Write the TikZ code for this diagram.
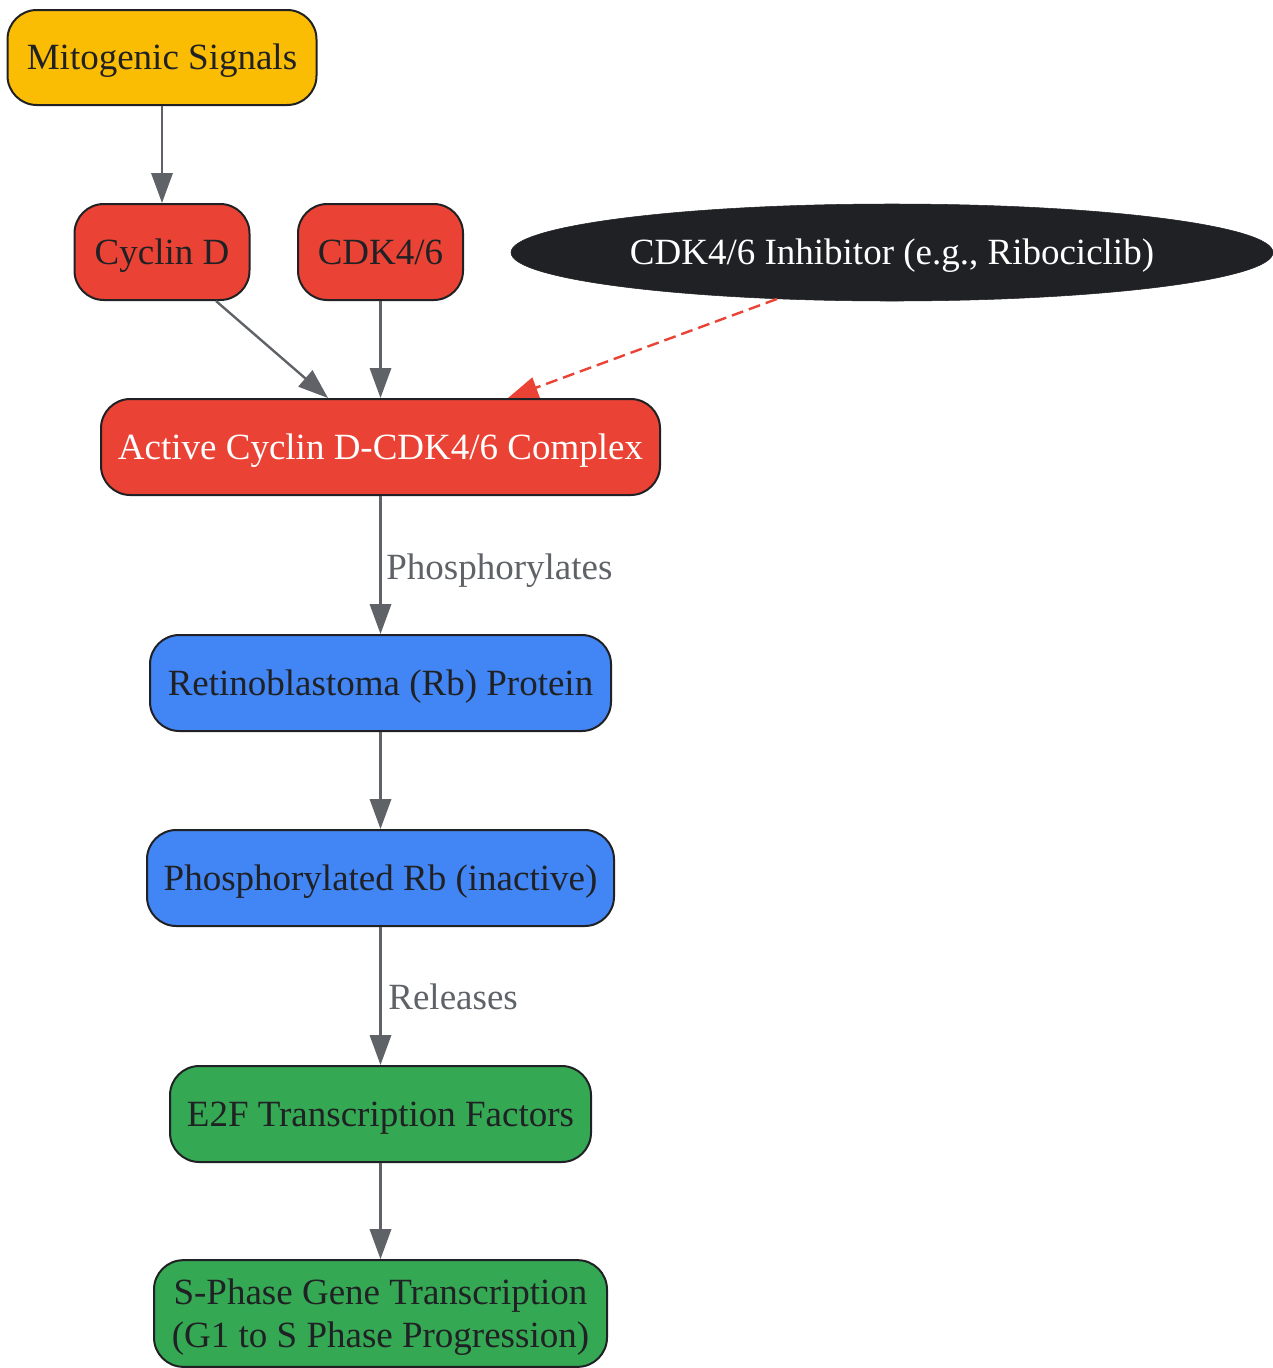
\documentclass[tikz,border=0pt]{standalone}
\usepackage{fontspec}
\setmainfont{Liberation Serif}
\usetikzlibrary{shapes.geometric,arrows.meta,calc}
\definecolor{gyellow}{HTML}{FBBC04}
\definecolor{gred}{HTML}{EA4335}
\definecolor{gblue}{HTML}{4285F4}
\definecolor{ggreen}{HTML}{34A853}
\definecolor{gdark}{HTML}{202124}
\definecolor{ggray}{HTML}{5F6368}
\tikzset{
  box/.style={draw=gdark, line width=1.5pt, rounded corners=22pt, inner sep=0pt,
    minimum height=72pt, align=center, text=gdark, text height=18.4pt, text depth=0pt,
    font=\fontsize{27.75}{32.25}\selectfont},
  conn/.style={draw=ggray, line width=1.8pt, -{Triangle[length=22.5pt,width=16pt]}},
  inhib/.style={draw=gred, line width=1.8pt, dash pattern=on 9pt off 4.5pt,
    -{Triangle[length=22.5pt,width=16pt]}},
  elabel/.style={text=ggray, anchor=west, inner sep=0pt,
    font=\fontsize{27.75}{32.25}\selectfont}
}
\begin{document}
\begin{tikzpicture}[x=0.75pt,y=-0.75pt]
\useasboundingbox (0,0) rectangle (1273,1368);
\node[box, fill=gyellow, minimum width=231.75pt, minimum height=71.25pt] (ms) at (162,57.5) {Mitogenic Signals};
\node[box, fill=gred, minimum width=131.25pt] (cd) at (162,252) {Cyclin D};
\node[box, fill=gred, minimum width=123.75pt] (cdk) at (380.5,252) {CDK4/6};
\node[ellipse, fill=gdark, draw=gdark, inner sep=0pt, minimum width=571.5pt, minimum height=72.75pt, text=white,
  text height=18.4pt, text depth=0pt,
  font=\fontsize{27.75}{32.25}\selectfont] (inh) at (892,252.5) {CDK4/6 Inhibitor (e.g., Ribociclib)};
\node[box, fill=gred, text=white, minimum width=419.25pt] (cx) at (380.5,447) {Active Cyclin D-CDK4/6 Complex};
\node[box, fill=gblue, minimum width=345.75pt] (rb) at (380.5,683) {Retinoblastoma (Rb) Protein};
\node[box, fill=gblue, minimum width=350.25pt] (prb) at (380.5,878) {Phosphorylated Rb (inactive)};
\node[box, fill=ggreen, minimum width=315.75pt] (e2f) at (380.5,1114) {E2F Transcription Factors};
\node[box, fill=ggreen, minimum width=339.75pt, minimum height=80pt, text height=, text depth=-3pt] (sp) at (380.5,1313.5) {S-Phase Gene Transcription\\(G1 to S Phase Progression)};

\draw[conn] (ms) -- (cd);
\draw[conn] ($(cd.south)+(54,0)$) -- ($(cx.north)+(-52.5,0)$);
\draw[conn] (cdk) -- (cx);
\draw[inhib] (inh.202) -- ($(cx.north)+(127.5,0)$);
\draw[conn] (cx) -- node[elabel, xshift=3.5pt, yshift=-4.25pt] (l1) {Phosphorylates} (rb);
\draw[conn] (rb) -- (prb);
\draw[conn] (prb) -- node[elabel, xshift=5pt, yshift=-0.5pt] (l2) {Releases} (e2f);
\draw[conn] (e2f) -- (sp);
\end{tikzpicture}
\end{document}
